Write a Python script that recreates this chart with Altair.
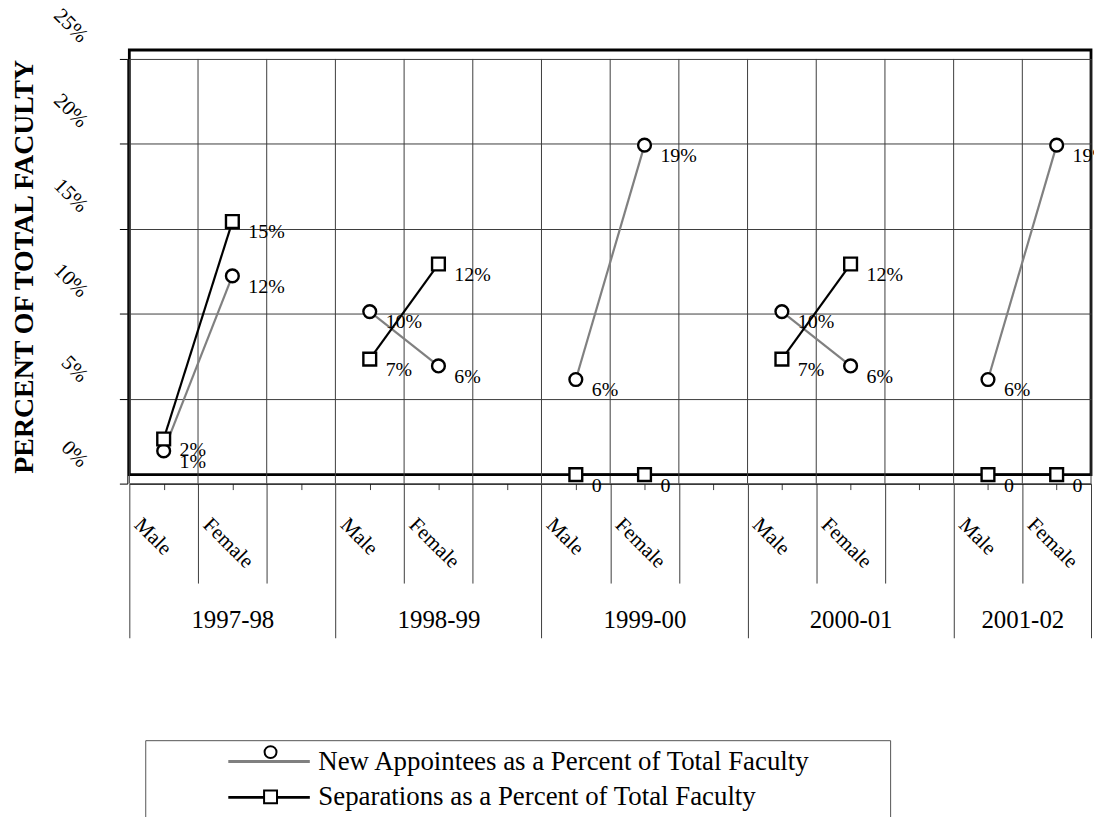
import altair as alt
import pandas as pd

# ---------------- data ----------------
years = ["1997-98", "1998-99", "1999-00", "2000-01", "2001-02"]
sexes = ["Male", "Female"]
series_app = "New Appointees as a Percent of Total Faculty"
series_sep = "Separations as a Percent of Total Faculty"

app_male = [1.4, 9.6, 5.6, 9.6, 5.6]
app_female = [11.7, 6.4, 19.4, 6.4, 19.4]
sep_male = [2.1, 6.8, 0.0, 6.8, 0.0]
sep_female = [14.9, 12.4, 0.0, 12.4, 0.0]

y_tick_values = [0, 5, 10, 15, 20, 25]

# category layout of the x axis (slots per year group)
slots_per_year = [3, 3, 3, 3, 2]

# ---------------- build tables ----------------
starts = []
acc = 0
for n in slots_per_year:
    starts.append(acc)
    acc += n
n_slots = acc

rows = []
for i, yr in enumerate(years):
    for j, sex in enumerate(sexes):
        slot = starts[i] + j + 0.5
        for name, vals in ((series_app, (app_male, app_female)),
                           (series_sep, (sep_male, sep_female))):
            v = vals[j][i]
            rows.append(dict(year=yr, sex=sex, slot=slot, series=name, kind=name,
                             value=v, label=(f"{v:.0f}%" if v > 0 else "0")))
df = pd.DataFrame(rows)

slot_labels = []
for n in slots_per_year:
    slot_labels += (sexes + [""] * n)[:n]
slot_centers = [k + 0.5 for k in range(n_slots)]
year_bounds = starts + [n_slots]
inner_bounds = [k for k in range(1, n_slots) if k not in year_bounds]
year_centers = [s + n / 2 for s, n in zip(starts, slots_per_year)]
bounds_df = pd.DataFrame({"b": list(range(n_slots + 1))})

slot_expr = "[" + ",".join(f"'{s}'" for s in slot_labels) + "][floor(datum.value)]"
year_expr = "".join(f"datum.value == {c} ? '{y}' : " for c, y in zip(year_centers, years)) + "''"

# ---------------- styling ----------------
FONT = "Liberation Serif"
W, H = 967, 427
SHIFT = 9
GRID = "#3c3c3c"

xs = alt.Scale(domain=[0, n_slots], nice=False, zero=False)
ys_data = alt.Scale(domain=[0, 25], nice=False)
ys_grid = alt.Scale(domain=[0, 25], nice=False, range=[H + SHIFT, SHIFT])

y_axis = alt.Axis(values=y_tick_values, labelExpr="datum.value + '%'", grid=True,
                  gridColor=GRID, gridWidth=1, tickSize=8, tickColor="black",
                  domainColor="black", domainWidth=1, offset=2,
                  labelAngle=45, labelAlign="right", labelBaseline="middle",
                  labelPadding=36, labelOffset=-20, labelFont=FONT, labelFontSize=21,
                  labelColor="black", labelOverlap=False,
                  title="PERCENT OF TOTAL FACULTY", titleFont=FONT, titleFontSize=28,
                  titleFontWeight="bold", titleColor="black", titleAngle=270,
                  titleX=-95.5, titleY=217.5, titleAlign="center",
                  titleBaseline="alphabetic")

ax_inner = alt.Axis(orient="bottom", values=inner_bounds, labels=False, domain=False,
                    ticks=True, tickSize=100, tickColor=GRID, grid=False,
                    offset=SHIFT, title=None)
ax_center = alt.Axis(orient="bottom", values=slot_centers, labelExpr=slot_expr,
                     offset=SHIFT, domain=True, domainColor="black", domainWidth=1,
                     ticks=True, tickSize=6, tickColor=GRID, grid=False,
                     labelAngle=45, labelAlign="left", labelBaseline="top",
                     labelOffset=-19, labelPadding=24, labelFont=FONT, labelFontSize=21,
                     labelColor="black", labelOverlap=False, labelFlush=False,
                     labelBound=False, title=None)
ax_years = alt.Axis(orient="bottom", values=year_bounds, labels=False, domain=False,
                    ticks=True, tickSize=155, tickColor=GRID, grid=False,
                    offset=SHIFT, title=None)
ax_year_labels = alt.Axis(orient="bottom", values=year_centers, labelExpr=year_expr,
                          ticks=False, domain=False, grid=False, offset=SHIFT,
                          labelPadding=137, labelBaseline="middle", labelAlign="center",
                          labelAngle=0, labelFont=FONT, labelFontSize=25,
                          labelColor="black", labelOverlap=False, labelFlush=False,
                          title=None)

leg_lines = alt.Legend(orient="none", legendX=16, legendY=694, title=" ",
                       titleOrient="right", titlePadding=72, padding=8,
                       strokeColor="#555555", fillColor="white",
                       symbolType="M-4,0L4,0", symbolSize=420, symbolStrokeWidth=3,
                       symbolOffset=103, labelOffset=36, labelFont=FONT,
                       labelFontSize=27, labelColor="black", labelLimit=1000,
                       rowPadding=8, zindex=1)

# legend glyph: the circle marker above the first legend line, the square on the second
marker_glyph = ("M-6,-19A6,6,0,1,1,6,-19A6,6,0,1,1,-6,-19Z"
                "M-6.5,19.5L6.5,19.5L6.5,32.5L-6.5,32.5Z")
leg_markers = alt.Legend(orient="none", legendX=140, legendY=723, title=None,
                         values=[series_app], padding=0, symbolType=marker_glyph,
                         symbolSize=4, symbolStrokeWidth=2, symbolFillColor="white",
                         symbolOffset=0, labelFontSize=4, labelExpr="''",
                         zindex=2)

series_domain = [series_app, series_sep]

vgrid = alt.Chart(bounds_df).mark_rule(color=GRID, strokeWidth=1).encode(
    x=alt.X("b:Q", scale=xs, axis=ax_inner),
    y=alt.YDatum(0, scale=ys_grid, axis=y_axis),
    y2=alt.Y2Datum(25),
)

lines = alt.Chart(df).mark_line(strokeWidth=2.2).encode(
    x=alt.X("slot:Q", scale=xs, axis=ax_center),
    y=alt.Y("value:Q", scale=ys_data, axis=None),
    stroke=alt.Stroke("series:N", scale=alt.Scale(domain=series_domain,
                                                  range=["#808080", "#000000"]),
                      legend=leg_lines),
    detail="year:N",
    order="slot:Q",
)

points = alt.Chart(df).mark_point(filled=True, fill="white", strokeWidth=2.4,
                                  size=165, opacity=1).encode(
    x=alt.X("slot:Q", scale=xs, axis=ax_years),
    y=alt.Y("value:Q", scale=ys_data, axis=None),
    shape=alt.Shape("kind:N", scale=alt.Scale(range=["circle", "square"]),
                    legend=None),
    stroke=alt.Stroke("kind:N", scale=alt.Scale(range=["#000000", "#000000"]),
                      legend=leg_markers),
)

labels = alt.Chart(df).mark_text(align="left", baseline="middle", dx=16, dy=11,
                                 font=FONT, fontSize=20, color="black").encode(
    x=alt.X("slot:Q", scale=xs, axis=ax_year_labels),
    y=alt.Y("value:Q", scale=ys_data, axis=None),
    text="label:N",
)

chart = alt.layer(vgrid, lines, points, labels).resolve_scale(
    y="independent", stroke="independent"
).resolve_legend(
    stroke="independent"
).resolve_axis(
    x="independent", y="independent"
).properties(
    width=W, height=H,
    padding={"left": 122, "top": 40, "right": 3, "bottom": 342},
    autosize=alt.AutoSizeParams(type="none"),
    background="white",
).configure_view(
    stroke="black", strokeWidth=2.8
)

chart.save("out.html", embed_options={"renderer": "svg", "actions": False})
